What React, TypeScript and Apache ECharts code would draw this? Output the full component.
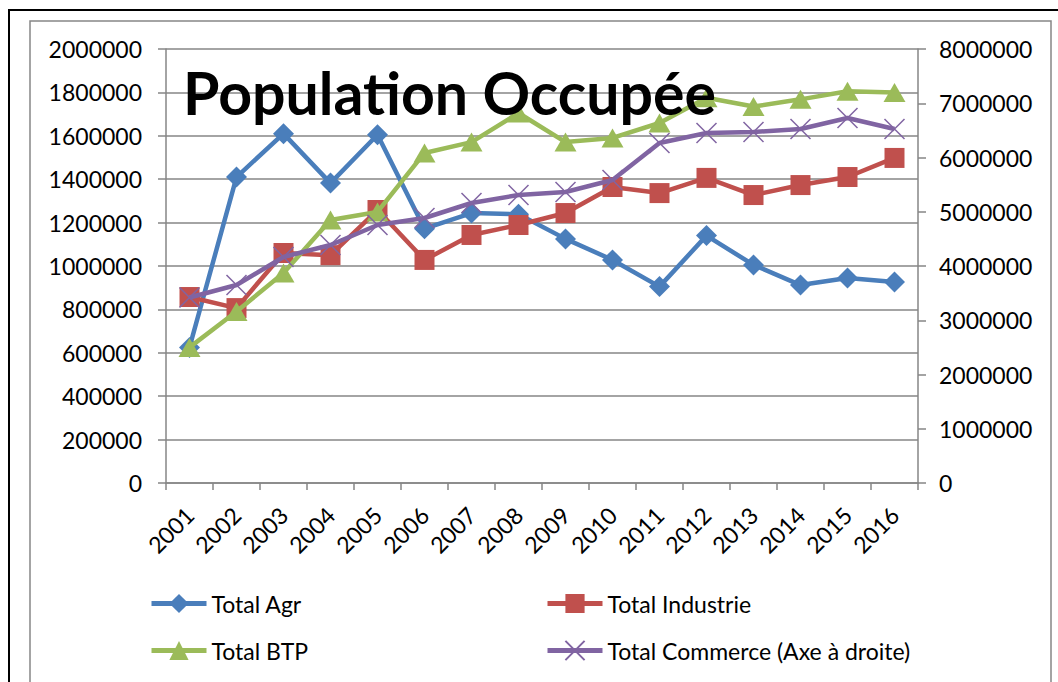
import React, { useEffect, useRef } from "react";
import * as echarts from "echarts";

const years = ["2001","2002","2003","2004","2005","2006","2007","2008","2009","2010","2011","2012","2013","2014","2015","2016"];
const totalAgr = [625000,1410000,1610000,1382000,1605000,1172000,1244000,1238000,1125000,1028000,905000,1140000,1005000,912000,945000,926000];
const totalIndustrie = [857000,806000,1060000,1050000,1258000,1028000,1143000,1189000,1244000,1364000,1336000,1406000,1327000,1373000,1410000,1498000];
const totalBTP = [625000,790000,968000,1212000,1249000,1521000,1571000,1705000,1571000,1590000,1659000,1775000,1735000,1768000,1805000,1799000];
const totalCommerce = [3420000,3650000,4166000,4387000,4756000,4885000,5161000,5309000,5364000,5585000,6267000,6452000,6470000,6525000,6728000,6525000];

const FONT = "Lato";

export default function App() {
  const ref = useRef<HTMLDivElement>(null);
  useEffect(() => {
    document.body.style.margin = "0";
    const chart = echarts.init(ref.current!, null, { renderer: "svg" });
    const grey = "#868686";
    const legendCommon = {
      orient: "vertical",
      top: 587,
      itemWidth: 55,
      itemHeight: 24,
      itemGap: 24,
      lineStyle: { width: 5 },
      textStyle: { fontFamily: FONT, fontSize: 23, color: "#000" },
    };
    chart.setOption({
      animation: false,
      backgroundColor: "#fff",
      textStyle: { fontFamily: FONT },
      title: {
        text: "Population Occupée",
        left: 178,
        top: 58,
        textStyle: { fontFamily: FONT, fontWeight: "bold", fontSize: 59, color: "#000" },
        z: 10,
      },
      graphic: [
        { type: "rect", shape: { x: 9, y: 10, width: 1200, height: 800 }, style: { fill: "none", stroke: "#000", lineWidth: 2 }, silent: true },
        { type: "rect", shape: { x: 30, y: 21, width: 1021, height: 800 }, style: { fill: "none", stroke: grey, lineWidth: 1.5 }, silent: true },
      ],
      grid: { left: 166, top: 49, width: 752, height: 434 },
      legend: [
        { ...legendCommon, data: ["Total Agr", "Total BTP"], left: 144 },
        { ...legendCommon, data: ["Total Industrie", "Total Commerce (Axe à droite)"], left: 540 },
      ],
      xAxis: {
        type: "category",
        data: years,
        boundaryGap: true,
        axisLine: { show: true, lineStyle: { color: grey, width: 1.5 } },
        axisTick: { show: true, length: 7, lineStyle: { color: grey, width: 1.5 } },
        axisLabel: { rotate: 45, margin: 28, fontSize: 23, color: "#000", fontFamily: FONT, interval: 0 },
      },
      yAxis: [
        {
          type: "value",
          min: 0,
          max: 2000000,
          interval: 200000,
          axisLine: { show: true, lineStyle: { color: grey, width: 1.5 } },
          axisTick: { show: true, length: 8, lineStyle: { color: grey, width: 1.5 } },
          splitLine: { show: true, lineStyle: { color: grey, width: 1.5 } },
          axisLabel: { margin: 24, fontSize: 23, color: "#000", fontFamily: FONT, formatter: (v: number) => String(v) },
        },
        {
          type: "value",
          min: 0,
          max: 8000000,
          interval: 1000000,
          position: "right",
          axisLine: { show: true, lineStyle: { color: grey, width: 1.5 } },
          axisTick: { show: true, length: 8, lineStyle: { color: grey, width: 1.5 } },
          splitLine: { show: false },
          axisLabel: { margin: 21, fontSize: 23, color: "#000", fontFamily: FONT, formatter: (v: number) => String(v) },
        },
      ],
      series: [
        {
          name: "Total Agr",
          type: "line",
          data: totalAgr,
          symbol: "diamond",
          symbolSize: 21,
          lineStyle: { color: "#4A7EBB", width: 4.5 },
          itemStyle: { color: "#4A7EBB" },
          z: 2,
        },
        {
          name: "Total Industrie",
          type: "line",
          data: totalIndustrie,
          symbol: "rect",
          symbolSize: 20,
          lineStyle: { color: "#C0504D", width: 4.5 },
          itemStyle: { color: "#C0504D" },
          z: 3,
        },
        {
          name: "Total BTP",
          type: "line",
          data: totalBTP,
          symbol: "triangle",
          symbolSize: [22, 19],
          lineStyle: { color: "#9BBB59", width: 4.5 },
          itemStyle: { color: "#9BBB59" },
          z: 4,
        },
        {
          name: "Total Commerce (Axe à droite)",
          type: "line",
          yAxisIndex: 1,
          data: totalCommerce,
          symbol: "path://M0 0L20 20M20 0L0 20",
          symbolSize: 20,
          lineStyle: { color: "#8064A2", width: 4.5 },
          itemStyle: { color: "#8064A2", borderColor: "#8064A2", borderWidth: 1.5 },
          z: 5,
        },
      ],
    });
    return () => chart.dispose();
  }, []);
  return <div ref={ref} style={{ width: 1058, height: 682 }} />;
}
